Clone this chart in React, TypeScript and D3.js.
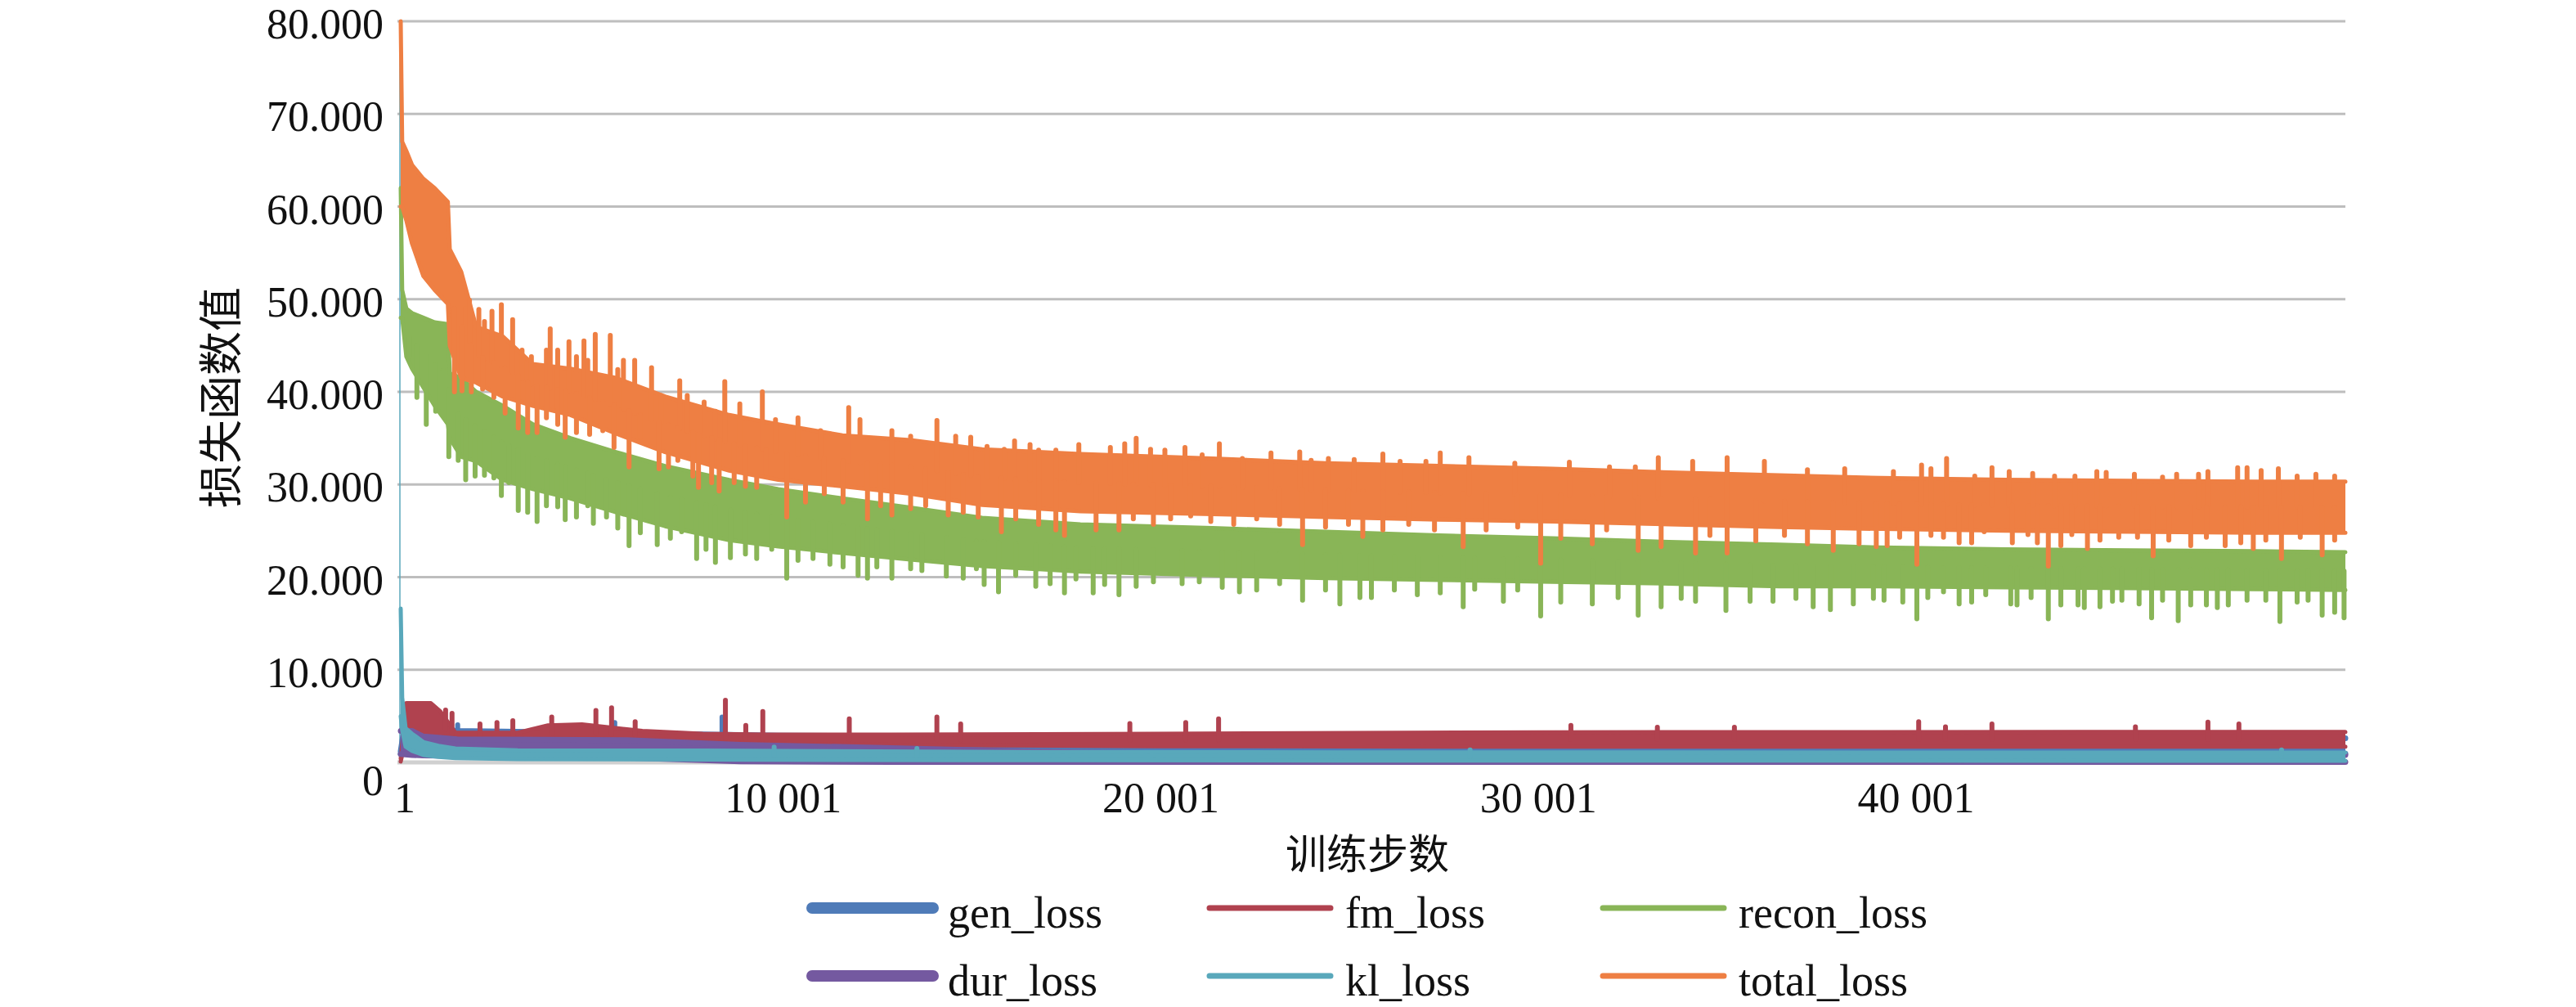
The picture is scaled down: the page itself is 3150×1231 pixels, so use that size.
import * as d3 from "d3";

// ---- data (envelopes of the noisy curves + visible spikes) ----
const bigSteps = [1, 40, 150, 300, 600, 900, 1250, 1300, 1600, 2000, 2700, 3500, 4500, 5700, 7000, 8700, 10000, 11700, 13500, 15400, 18000, 21500, 24500, 27500, 30500, 33600, 36500, 39200, 42500, 45800, 49100, 51500];
const totalHi = [80, 67, 66, 64.5, 63, 62, 60.5, 55.4, 53, 47, 46, 43, 42.5, 41.5, 39.5, 37.5, 36.5, 35.3, 34.8, 33.8, 33.3, 32.8, 32.3, 32.0, 31.7, 31.3, 31.0, 30.7, 30.5, 30.4, 30.3, 30.3];
const totalLo = [60, 60, 58.5, 56, 52.5, 51, 49.5, 45, 41.5, 41, 39.5, 38.5, 37.5, 35.5, 33.5, 31.5, 30.5, 29.8, 29, 27.8, 27.1, 26.8, 26.5, 26.2, 26.0, 25.7, 25.4, 25.2, 25.0, 24.9, 24.8, 24.8];
const reconHi = [62, 51, 49, 48.5, 48, 47.5, 47.3, 42, 41.5, 40, 38.5, 36.5, 35, 33.5, 32, 30.5, 29.5, 28.5, 27.5, 26.4, 25.7, 25.3, 24.9, 24.5, 24.2, 23.8, 23.5, 23.2, 23.0, 22.9, 22.8, 22.7];
const reconLo = [48, 48, 43.8, 42.5, 40.5, 38.5, 36.5, 35, 33, 32.5, 30.5, 29.5, 28.5, 27, 25.5, 24, 23.3, 22.6, 21.9, 21.2, 20.6, 20.2, 19.9, 19.7, 19.5, 19.3, 19.0, 19.0, 18.9, 18.8, 18.7, 18.6];

const genSteps = [1, 100, 1500, 5000, 10000, 20000, 51500];
const genHi = [1.2, 3.8, 3.4, 3.2, 2.9, 2.7, 2.6];
const genLo = [0.9, 1.6, 1.5, 1.4, 1.2, 1.0, 0.95];

const fmSteps = [1, 150, 800, 1050, 1450, 3100, 3900, 4800, 6400, 8000, 9700, 13000, 20000, 30000, 51500];
const fmHi = [0.4, 6.4, 6.4, 5.5, 3.2, 3.2, 4.0, 4.1, 3.4, 3.1, 3.0, 3.0, 3.1, 3.25, 3.3];
const fmLo = [0.1, 2.8, 2.6, 2.5, 2.4, 2.4, 2.4, 2.4, 2.3, 2.2, 2.0, 1.9, 1.75, 1.7, 1.7];

const durSteps = [1, 300, 600, 1500, 6000, 9000, 13000, 18000, 25000, 51500];
const durHi = [3.4, 3.4, 2.8, 2.5, 2.4, 1.9, 1.55, 1.05, 0.9, 0.8];
const durLo = [0.9, 0.8, 0.75, 0.7, 0.5, 0.1, 0.04, 0.04, 0.04, 0.04];

const klSteps = [1, 40, 130, 300, 600, 1000, 1450, 3100, 8000, 15000, 25000, 51500];
const klHi = [16.6, 7, 3.7, 3.1, 2.2, 1.8, 1.5, 1.3, 1.28, 1.15, 1.08, 1.06];
const klLo = [5, 3.5, 1.7, 1.24, 0.8, 0.6, 0.47, 0.35, 0.3, 0.24, 0.2, 0.18];

// spikes: [step, value]
const totalUp = [
  [1722, 49.0], [1822, 49.9], [2070, 48.9], [2219, 47.6], [2418, 48.7], [2667, 49.4], [2965, 47.8], [3214, 44.5], [3462, 43.8], [3860, 44.5], [3960, 46.8], [4158, 44.5], [4457, 45.4], [4655, 43.8], [4854, 45.5], [4954, 43.4], [5153, 46.2], [5551, 46.1], [5749, 42.4], [5899, 43.4], [6197, 43.4], [6644, 42.6], [6893, 39.6], [7390, 41.2], [7589, 39.6], [8036, 38.9], [8335, 37.9], [8583, 41.1], [8981, 38.7], [9578, 40.0], [9926, 37.0], [10522, 37.2], [11119, 35.8], [11865, 38.3], [12163, 37.0], [13008, 35.8], [13505, 35.2], [14201, 36.9], [14698, 35.2], [15096, 35.1],
  [15528, 34.1], [15984, 33.8], [16257, 34.7], [16667, 34.3], [16895, 33.7], [17351, 33.7], [17959, 34.3], [18794, 34.0], [19174, 34.4], [19478, 35.0], [19858, 33.8], [20238, 33.7], [20770, 34.0], [21225, 33.2], [21681, 34.4], [22289, 32.8], [23048, 33.4], [23808, 33.5], [24112, 32.6], [24568, 32.8], [25251, 32.7], [26011, 33.3], [26467, 32.5], [27151, 32.5], [27530, 33.4], [28290, 32.9], [29505, 32.3], [30949, 32.4], [32012, 31.9], [32696, 31.9], [33304, 32.9], [34215, 32.5], [35127, 32.9], [36114, 32.5], [37254, 31.6], [38241, 31.7],
  [39531, 31.4], [40276, 32.1], [40525, 31.7], [40939, 32.8], [41685, 30.9], [42141, 31.8], [42597, 31.4], [43219, 31.2], [43799, 30.9], [44338, 30.9], [44918, 31.4], [45166, 31.3], [45912, 31.1], [46658, 30.8], [47031, 31.1], [47611, 31.1], [47860, 31.4], [48647, 31.8], [48896, 31.8], [49269, 31.5], [49725, 31.7], [50222, 30.9], [50719, 31.1], [51216, 30.9],
];
const totalDown = [
  [1424, 40.0], [1623, 40.1], [1871, 40.0], [2170, 40.3], [2468, 39.4], [2766, 37.7], [3114, 36.1], [3363, 35.6], [3612, 35.6], [3860, 37.2], [4159, 36.5], [4357, 35.1], [4655, 35.6], [5004, 35.4], [5352, 35.8], [5650, 34.0], [6048, 31.9], [6346, 35.1], [6843, 31.7], [7092, 31.9], [7340, 32.6], [7738, 30.9], [7887, 29.7], [8235, 30.2], [8434, 29.3], [8832, 30.2], [9130, 29.8], [9428, 29.7], [9677, 31.2], [10224, 26.5], [10721, 28.1], [11218, 29.0], [11716, 28.1], [12362, 26.3], [12710, 27.7], [13008, 26.7], [13505, 27.4], [13903, 27.7], [14500, 26.7], [14898, 27.0], [15295, 26.5],
  [15908, 24.9], [16288, 26.3], [16895, 25.7], [17351, 25.1], [17579, 24.5], [18415, 25.1], [19022, 25.1], [19402, 26.3], [19934, 25.7], [20390, 26.3], [20921, 26.6], [21453, 26.0], [22061, 25.7], [22669, 26.3], [23276, 25.7], [23884, 23.5], [24492, 25.4], [25100, 25.7], [25479, 24.4], [26011, 25.1], [26695, 25.7], [27378, 25.1], [28138, 23.3], [28746, 25.1], [29581, 25.4], [30189, 21.5], [30721, 24.2], [31557, 23.6], [31936, 25.1], [32772, 22.9], [33380, 23.3], [34291, 22.6], [34671, 24.5], [35127, 22.6], [35887, 23.9], [36646, 24.5], [37254, 23.6], [37938, 22.9], [38621, 23.6], [39077, 23.3],
  [39365, 23.4], [39696, 24.3], [40152, 21.4], [40525, 24.5], [40857, 24.3], [41271, 23.7], [41603, 23.7], [41934, 24.9], [42680, 23.7], [43094, 24.6], [43343, 23.7], [43633, 21.2], [43965, 23.4], [44255, 24.6], [44669, 23.1], [45001, 24.0], [45498, 24.3], [45995, 24.3], [46410, 22.3], [46824, 24.0], [47404, 23.4], [47819, 24.3], [48316, 23.4], [48730, 23.7], [49061, 23.1], [49393, 24.0], [49807, 22.0], [50305, 24.3], [50885, 22.4], [51216, 24.0],
];
const reconDown = [
  [231, 43.8], [430, 39.4], [678, 36.5], [927, 37.9], [1126, 37.5], [1275, 33.0], [1524, 32.6], [1722, 30.5], [1971, 30.9], [2219, 31.0], [2468, 30.7], [2667, 28.8], [2866, 30.2], [3114, 27.2], [3363, 27.0], [3612, 26.0], [3860, 27.7], [4159, 27.6], [4357, 26.2], [4655, 26.5], [4954, 27.7], [5103, 25.8], [5451, 26.5], [5749, 25.3], [6048, 23.4], [6346, 24.8], [6794, 23.5], [7142, 24.2], [7440, 24.9], [7838, 22.0], [8086, 23.0], [8335, 21.6], [8732, 22.1], [9130, 22.5], [9428, 22.0], [9826, 23.0], [10224, 19.9], [10522, 21.8], [10920, 22.0], [11367, 21.4], [11716, 21.1], [12113, 20.2], [12362, 19.9], [12610, 21.1], [13008, 19.9], [13505, 20.9], [13803, 20.7], [14450, 20.1], [14898, 19.9], [15246, 20.9],
  [15452, 19.2], [15832, 18.4], [16288, 20.2], [16819, 19.0], [17199, 19.3], [17579, 18.3], [17883, 19.8], [18339, 18.3], [18642, 19.2], [19022, 18.1], [19478, 19.0], [19934, 19.5], [20694, 19.3], [21149, 19.5], [21757, 18.9], [22213, 18.4], [22669, 18.6], [23276, 19.3], [23884, 17.5], [24492, 18.6], [24872, 17.1], [25403, 17.8], [25707, 17.8], [26315, 18.6], [26923, 18.1], [27530, 18.3], [28138, 16.8], [28442, 18.7], [29202, 17.4], [29581, 18.6], [30189, 15.8], [30721, 17.3], [31557, 17.1], [32240, 17.8], [32772, 15.9], [33380, 16.8], [33911, 17.7], [34291, 17.4], [35096, 16.4], [35735, 17.4], [36342, 17.4], [36950, 17.7], [37406, 16.8], [37862, 16.5], [38469, 17.1], [39001, 17.7],
  [39282, 17.5], [39779, 17.3], [40152, 15.5], [40442, 17.8], [40857, 18.4], [41271, 17.1], [41603, 17.3], [41976, 18.1], [42639, 17.1], [42804, 17.0], [43177, 17.8], [43633, 15.5], [43965, 17.0], [44420, 17.0], [44586, 16.7], [45001, 16.8], [45332, 17.4], [45581, 17.5], [46037, 17.1], [46368, 15.6], [46658, 17.5], [47073, 15.3], [47404, 17.0], [47819, 17.0], [48109, 16.7], [48399, 17.0], [48896, 17.5], [49393, 17.5], [49766, 15.2], [50222, 17.3], [50512, 17.5], [50885, 15.9], [51216, 16.2], [51465, 15.6],
];
const fmUp = [[1190, 5.65], [1360, 5.3], [2100, 4.15], [2550, 4.3], [2970, 4.5], [4000, 4.9], [5170, 5.6], [5585, 5.9], [6210, 4.4], [8600, 6.7], [9140, 4.0], [9590, 5.5], [11880, 4.7], [14200, 4.9], [14830, 4.15], [19310, 4.2], [20790, 4.3], [21660, 4.7], [30990, 4.0], [33280, 3.8], [35320, 3.8], [40200, 4.4], [40910, 3.85], [42140, 4.15], [45940, 3.85], [47860, 4.35], [48680, 4.15]];
const genUp = [[1510, 4.06], [5670, 4.3], [8510, 4.9]];
const klUp = [[9890, 1.65], [13670, 1.5], [28320, 1.35], [49810, 1.35]];

const yTicks = [0, 10, 20, 30, 40, 50, 60, 70, 80];
const xTicks = [1, 10001, 20001, 30001, 40001];

const none: number[][] = [];
const series = [
  { name: "gen_loss", color: "#4F7BB8", w: 7, steps: genSteps, hi: genHi, lo: genLo, up: genUp, down: none },
  { name: "fm_loss", color: "#B0424F", w: 5, steps: fmSteps, hi: fmHi, lo: fmLo, up: fmUp, down: none },
  { name: "recon_loss", color: "#89B557", w: 5, steps: bigSteps, hi: reconHi, lo: reconLo, up: none, down: reconDown },
  { name: "dur_loss", color: "#7459A0", w: 7, steps: durSteps, hi: durHi, lo: durLo, up: none, down: none },
  { name: "kl_loss", color: "#59A8BB", w: 5, steps: klSteps, hi: klHi, lo: klLo, up: klUp, down: none },
  { name: "total_loss", color: "#EE7F43", w: 5, steps: bigSteps, hi: totalHi, lo: totalLo, up: totalUp, down: totalDown },
];

const W = 3150;
const H = 1231;
const serif = "'Liberation Serif', 'Times New Roman', serif";
const cjk = "'Noto Sans CJK SC', sans-serif";

type Pt = { st: number; hi: number; lo: number };

export default function App() {
  const x = d3.scaleLinear().domain([1, 51500]).range([490, 2868]);
  const y = d3.scaleLinear().domain([0, 80]).range([932, 26]);
  const yFmt = d3.format(".3f");
  const xFmt = d3
    .formatLocale({ thousands: " ", grouping: [3], decimal: ".", currency: ["", ""] })
    .format(",");

  const legendCols = [987, 1473, 1954];
  const legendRows = [1110, 1193];

  return (
    <svg
      width={W}
      height={H}
      viewBox={`0 0 ${W} ${H}`}
      style={{ position: "absolute", left: 0, top: 0, background: "#fff" }}
    >
      <rect width={W} height={H} fill="#fff" />

      {/* gridlines */}
      {yTicks.map((t) => (
        <line
          key={`g${t}`}
          x1={486}
          x2={2868}
          y1={y(t)}
          y2={y(t)}
          stroke={t === 0 ? "#D0D0D0" : "#BEBEBE"}
          strokeWidth={t === 0 ? 5 : 3}
        />
      ))}
      <line x1={489} x2={489} y1={y(80)} y2={y(0)} stroke="#5AA7BB" strokeWidth={1.5} />

      {/* series */}
      {series.map((s) => {
        const pts: Pt[] = s.steps.map((st, i) => ({ st, hi: s.hi[i], lo: s.lo[i] }));
        const area = d3
          .area<Pt>()
          .x((d) => x(d.st))
          .y0((d) => y(d.lo))
          .y1((d) => y(d.hi));
        const hiLine = d3.line<Pt>().x((d) => x(d.st)).y((d) => y(d.hi));
        const loLine = d3.line<Pt>().x((d) => x(d.st)).y((d) => y(d.lo));
        const hiAt = d3.scaleLinear().domain(s.steps).range(s.hi).clamp(true);
        const loAt = d3.scaleLinear().domain(s.steps).range(s.lo).clamp(true);
        const spikes = [...s.up, ...s.down];
        return (
          <g key={s.name}>
            <path d={area(pts) || ""} fill={s.color} />
            <path d={hiLine(pts) || ""} fill="none" stroke={s.color} strokeWidth={s.w} strokeLinejoin="round" strokeLinecap="round" />
            <path d={loLine(pts) || ""} fill="none" stroke={s.color} strokeWidth={s.w} strokeLinejoin="round" strokeLinecap="round" />
            {spikes.map(([st, v], i) => (
              <line
                key={`sp${i}`}
                x1={x(st)}
                x2={x(st)}
                y1={y((hiAt(st) + loAt(st)) / 2)}
                y2={y(v)}
                stroke={s.color}
                strokeWidth={6}
                strokeLinecap="round"
              />
            ))}
          </g>
        );
      })}

      {/* y tick labels */}
      {yTicks.map((t) => (
        <text
          key={`yl${t}`}
          x={469}
          y={t === 0 ? y(0) + 40 : y(t) + 21}
          textAnchor="end"
          fontFamily={serif}
          fontSize={52}
          fill="#111"
        >
          {t === 0 ? "0" : yFmt(t)}
        </text>
      ))}

      {/* x tick labels */}
      {xTicks.map((t) => (
        <text
          key={`xl${t}`}
          x={t === 1 ? x(t) + 5 : x(t) + 6}
          y={993}
          textAnchor="middle"
          fontFamily={serif}
          fontSize={52}
          fill="#111"
        >
          {xFmt(t)}
        </text>
      ))}

      {/* axis titles */}
      <text x={1672} y={1062} textAnchor="middle" fontFamily={cjk} fontSize={50} fill="#111">
        训练步数
      </text>
      <text
        transform={`translate(290, 486) rotate(-90)`}
        textAnchor="middle"
        fontFamily={cjk}
        fontSize={54}
        fill="#111"
      >
        损失函数值
      </text>

      {/* legend */}
      {series.map((s, i) => {
        const cx = legendCols[i % 3];
        const cy = legendRows[Math.floor(i / 3)];
        return (
          <g key={`lg${s.name}`}>
            <line
              x1={cx + 6}
              x2={cx + 154}
              y1={cy}
              y2={cy}
              stroke={s.color}
              strokeWidth={s.w === 7 ? 14 : 7}
              strokeLinecap="round"
            />
            <text x={cx + 172} y={cy + 24} fontFamily={serif} fontSize={54} fill="#111">
              {s.name}
            </text>
          </g>
        );
      })}
    </svg>
  );
}
